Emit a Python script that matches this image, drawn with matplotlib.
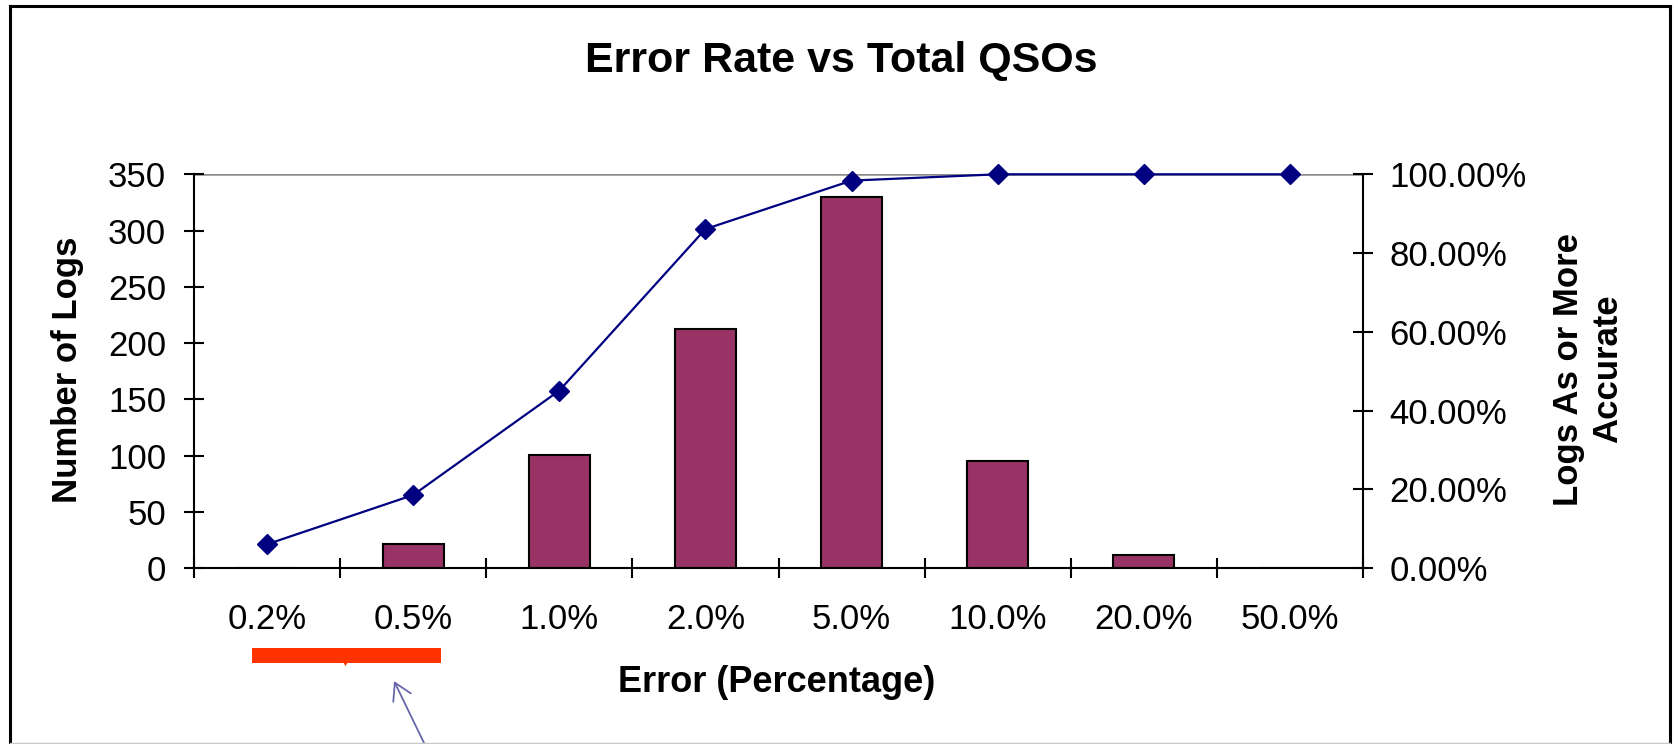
import matplotlib
matplotlib.use('Agg')
import matplotlib.pyplot as plt
import numpy as np
from matplotlib.lines import Line2D
from matplotlib.patches import Rectangle, Polygon, FancyArrowPatch, ArrowStyle
from matplotlib.ticker import FuncFormatter

plt.rcParams['font.family'] = ['Liberation Sans', 'DejaVu Sans']

# data
error_levels = ['0.2%', '0.5%', '1.0%', '2.0%', '5.0%', '10.0%', '20.0%', '50.0%']
log_counts = [0, 22, 101, 213, 330, 95, 12, 0]
pct_as_accurate = [6.1, 18.6, 45.1, 86.1, 98.4, 100.0, 100.0, 100.0]

W, H = 1673, 744


def fx(px):
    return px / W


def fy(py):
    return 1 - py / H


fig = plt.figure(figsize=(W / 100, H / 100), dpi=100)

# plot area in pixels: x 194..1363, y 174.3..568.3
ax = fig.add_axes([fx(194), fy(568.3), fx(1363 - 194), (568.3 - 174.3) / H])
x = np.arange(len(error_levels))
ax.bar(x, log_counts, width=0.415, color='#993366', edgecolor='black', linewidth=1.5, zorder=2)
ax.axhline(350, color='#8c8c8c', lw=1.8, zorder=1)
ax.set_xlim(-0.5, len(error_levels) - 0.5)
ax.set_ylim(0, 350)
ax.set_yticks(range(0, 351, 50))

# category axis: ticks between categories, labels in the middle
ax.set_xticks(np.arange(-0.5, len(error_levels), 1))
ax.set_xticklabels([])
ax.set_xticks(x, minor=True)
ax.set_xticklabels(error_levels, minor=True)
ax.tick_params(axis='x', which='major', direction='inout', length=15, width=1.5)
ax.tick_params(axis='x', which='minor', length=0, pad=25, labelsize=25)
ax.tick_params(axis='y', direction='inout', length=15, width=1.5, pad=12.5, labelsize=25)

for s in ['top', 'right']:
    ax.spines[s].set_visible(False)
for s in ['left', 'bottom']:
    ax.spines[s].set_linewidth(1.5)

ax2 = ax.twinx()
ax2.plot(x, pct_as_accurate, color='#000080', lw=1.6, marker='D', ms=10.5, mec='#000080',
         mfc='#000080', zorder=3, clip_on=False)
ax2.set_ylim(0, 100)
ax2.set_yticks(range(0, 101, 20))
ax2.yaxis.set_major_formatter(FuncFormatter(lambda v, p: '{:.2f}%'.format(v)))
ax2.tick_params(axis='y', direction='inout', length=15, width=1.5, pad=11.5, labelsize=25)
for s in ['top', 'left', 'bottom']:
    ax2.spines[s].set_visible(False)
ax2.spines['right'].set_linewidth(1.5)

# titles and axis labels
fig.text(fx(841), fy(72.3), 'Error Rate vs Total QSOs', ha='center', va='baseline',
         fontsize=31, fontweight='bold')
fig.text(fx(777), fy(692.5), 'Error (Percentage)', ha='center', va='baseline',
         fontsize=26, fontweight='bold')
fig.text(fx(68), fy(370), 'Number of Logs', ha='center', va='center', rotation=90,
         fontsize=25, fontweight='bold')
fig.text(fx(1588), fy(369), 'Logs As or More\nAccurate', ha='center', va='center', rotation=90,
         fontsize=25, fontweight='bold', linespacing=1.25, multialignment='center')

# outer chart frame
frame_kw = dict(transform=fig.transFigure, color='black', lw=2.2)
fig.add_artist(Line2D([fx(10), fx(10)], [0, fy(6)], **frame_kw))
fig.add_artist(Line2D([fx(10), fx(1670)], [fy(6), fy(6)], **frame_kw))
fig.add_artist(Line2D([fx(1670), fx(1670)], [0, fy(6)], **frame_kw))
fig.add_artist(Line2D([fx(10), fx(1670)], [fy(743), fy(743)], transform=fig.transFigure,
                      color='#c8c8c8', lw=1))

# red highlight bar under the first two labels
fig.add_artist(Rectangle((fx(251.5), fy(663)), fx(441 - 251.5), (663 - 648) / H,
                         transform=fig.transFigure, facecolor='#ff3300', edgecolor='none'))
fig.add_artist(Polygon([(fx(343), fy(662)), (fx(348), fy(662)), (fx(345.5), fy(666))],
                       closed=True, transform=fig.transFigure, facecolor='#ff3300', edgecolor='none'))

# pointer arrow
fig.add_artist(FancyArrowPatch((fx(425.5), fy(746)), (fx(394), fy(681)),
                               transform=fig.transFigure,
                               arrowstyle=ArrowStyle('->', head_length=12, head_width=7),
                               color='#6666a8', lw=1.3, shrinkA=0, shrinkB=0))

fig.savefig('out.png', dpi=100)
